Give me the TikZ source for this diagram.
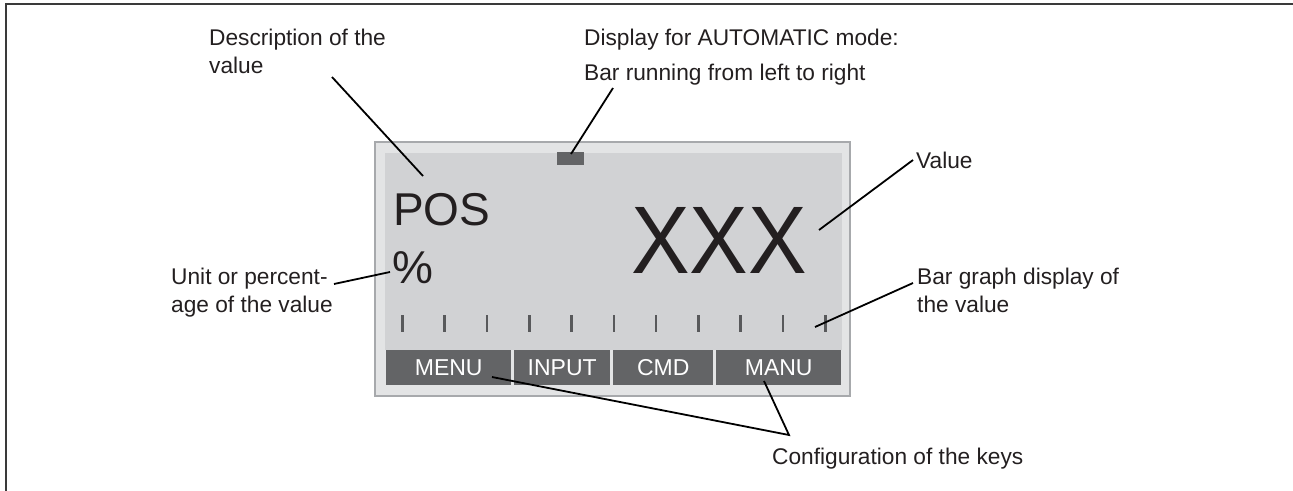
\documentclass[tikz,border=0pt]{standalone}
\usepackage{fontspec}
\setmainfont{Liberation Sans}
\definecolor{ink}{HTML}{231F20}
\definecolor{framefill}{HTML}{E3E4E5}
\definecolor{frameedge}{HTML}{A7A9AC}
\definecolor{lcd}{HTML}{D1D2D4}
\definecolor{keygray}{HTML}{636466}
\definecolor{tickgray}{HTML}{58595B}
\definecolor{border}{HTML}{3A3A3A}
\begin{document}
\begin{tikzpicture}[x=1pt,y=-1pt,
  lbl/.style={anchor=base west,inner sep=0pt,text=ink,font=\fontsize{22.7}{28}\selectfont},
  leader/.style={draw=black,line width=1.8pt},
  keybox/.style={fill=keygray,draw=none,text=white,inner sep=0pt,anchor=north west,minimum height=35pt,font=\fontsize{23}{26}\selectfont},
  tick/.style={draw=tickgray,line width=2.6pt}]
\useasboundingbox (0,0) rectangle (1293,490);
% outer frame
\draw[border,line width=1.6pt] (6,491) -- (6,4) -- (1294,4);
% display body
\draw[fill=framefill,draw=frameedge,line width=1.5pt] (375,142) rectangle (850,396);
\fill[lcd] (385,153) rectangle (842,350);
% small automatic bar
\node[fill=keygray,inner sep=0pt,minimum width=27pt,minimum height=13pt,anchor=north west] (autobar) at (557,152) {};
% ticks
\foreach \i in {0,...,10}{
  \draw[tick] ({402.3+42.3*\i},315) -- ({402.3+42.3*\i},332);
}
% keys
\node[keybox,minimum width=125pt] (menu) at (386,350) {MENU};
\node[keybox,minimum width=96pt] (input) at (514,350) {INPUT};
\node[keybox,minimum width=100pt] (cmd) at (613,350) {CMD};
\node[keybox,minimum width=125pt] (manu) at (716,350) {MANU};
% display texts
\node[anchor=base west,inner sep=0pt,text=ink,font=\fontsize{46}{50}\selectfont] (pos) at (393,225) {POS};
\node[anchor=base west,inner sep=0pt,text=ink,font=\fontsize{46}{50}\selectfont] (pct) at (392,283) {\%};
\node[anchor=base west,inner sep=0pt,text=ink,xscale=0.915,font=\fontsize{96}{100}\selectfont] (xxx) at (631,273) {XXX};
% labels
\node[lbl] (desc1) at (209,45) {Description of the};
\node[lbl] (desc2) at (209,73) {value};
\node[lbl] (auto1) at (584,45) {Display for AUTOMATIC mode:};
\node[lbl] (auto2) at (584,80) {Bar running from left to right};
\node[lbl] (val) at (916,168) {Value};
\node[lbl] (unit1) at (171,284) {Unit or percent-};
\node[lbl] (unit2) at (171,312) {age of the value};
\node[lbl] (bg1) at (917,284) {Bar graph display of};
\node[lbl] (bg2) at (917,312) {the value};
\node[lbl] (conf) at (772,464) {Configuration of the keys};
% leader coordinates
\coordinate (dA) at (332,77);  \coordinate (dB) at (423,176);
\coordinate (aA) at (613,88);  \coordinate (aB) at (571,154);
\coordinate (vA) at (913,160); \coordinate (vB) at (819,230);
\coordinate (uA) at (334,284); \coordinate (uB) at (390,272);
\coordinate (gA) at (913,283); \coordinate (gB) at (815,327);
\coordinate (cM) at (789,435);
\coordinate (mE) at (492,377); \coordinate (nE) at (764,381);
\draw[leader] (dA) -- (dB);
\draw[leader] (aA) -- (aB);
\draw[leader] (vA) -- (vB);
\draw[leader] (uA) -- (uB);
\draw[leader] (gA) -- (gB);
\draw[leader,line join=miter] (mE) -- (cM) -- (nE);
\end{tikzpicture}
\end{document}
